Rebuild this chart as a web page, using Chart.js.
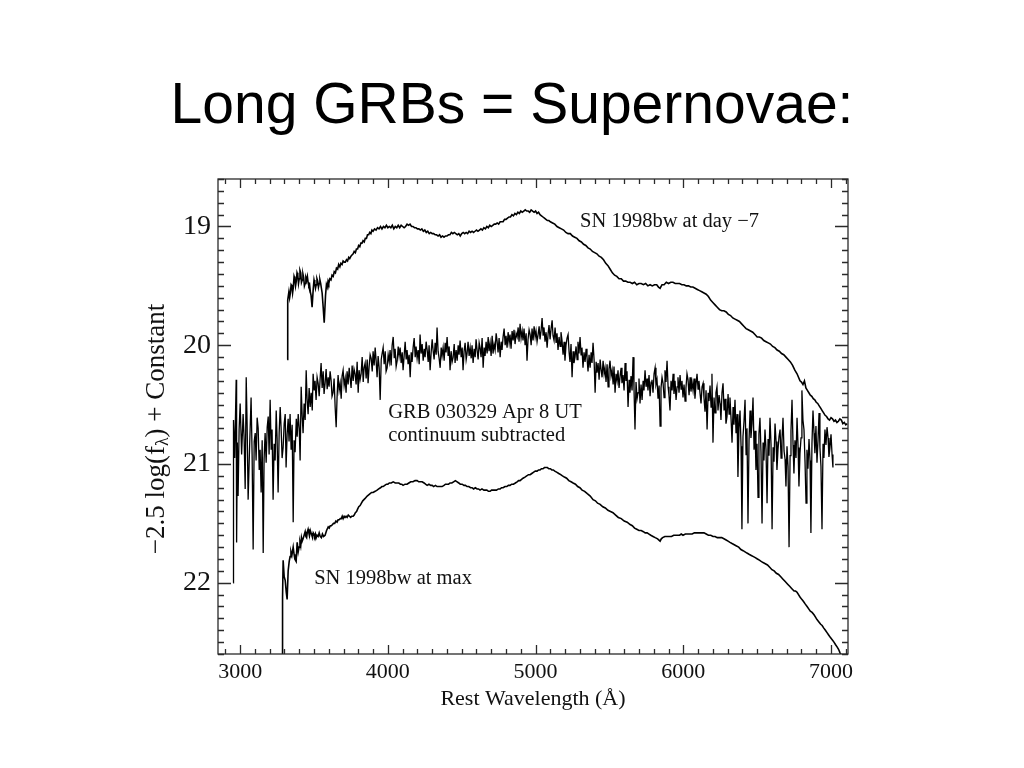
<!DOCTYPE html>
<html><head><meta charset="utf-8">
<script src="https://cdn.jsdelivr.net/npm/chart.js@4.4.1/dist/chart.umd.min.js"></script>
<style>
html,body{margin:0;padding:0;background:#fff;}
#wrap{position:relative;width:1024px;height:768px;overflow:hidden;}
#title{position:absolute;left:0;top:75px;width:1024px;text-align:center;font-family:'Liberation Sans',Arial,sans-serif;font-size:57px;line-height:57px;color:#000;}
canvas{position:absolute;left:0;top:0;}
</style></head><body>
<div id="wrap"><canvas id="c" width="1024" height="768"></canvas><div id="title">Long GRBs = Supernovae:</div></div>
<script>
// ---- data: [rest wavelength (Å), -2.5 log(f) + const] ----
const seriesNames = ['SN 1998bw at day −7', 'GRB 030329 Apr 8 UT', 'SN 1998bw at max'];
const xTickLabels = [3000, 4000, 5000, 6000, 7000];
const yTickLabels = [19, 20, 21, 22];

const sn1998bwDay7 = [
[3318,20.12],[3322,19.62],[3330,19.55],[3335,19.60],[3340,19.56],[3345,19.49],[3350,19.50],[3355,19.56],[3360,19.51],[3365,19.42],[3370,19.44],[3375,19.50],[3380,19.46],[3385,19.39],[3390,19.41],[3395,19.48],[3400,19.44],
[3405,19.37],[3410,19.39],[3415,19.47],[3420,19.45],[3425,19.40],[3430,19.43],[3435,19.50],[3440,19.48],[3445,19.43],[3450,19.45],[3455,19.42],[3460,19.47],[3465,19.50],[3470,19.49],[3475,19.55],[3480,19.58],[3487,19.68],[3495,19.52],
[3500,19.45],[3505,19.48],[3510,19.52],[3515,19.49],[3520,19.44],[3525,19.46],[3530,19.51],[3535,19.48],[3540,19.45],[3545,19.48],[3550,19.52],[3555,19.56],[3562,19.68],[3569,19.81],[3578,19.58],[3584,19.49],[3589,19.51],
[3595,19.46],[3600,19.48],[3607,19.44],[3615,19.45],[3622,19.41],[3630,19.42],[3637,19.38],[3645,19.39],[3652,19.35],[3660,19.36],[3667,19.32],[3675,19.34],[3682,19.31],[3690,19.32],[3697,19.29],[3705,19.30],[3712,19.30],[3720,19.28],
[3727,19.29],[3735,19.26],[3742,19.27],[3750,19.25],[3757,19.24],[3765,19.23],[3772,19.21],[3780,19.22],[3787,19.19],[3795,19.19],[3802,19.16],[3810,19.17],[3817,19.14],[3825,19.14],[3832,19.12],[3840,19.13],[3847,19.10],[3855,19.10],
[3862,19.07],[3870,19.07],[3877,19.05],[3885,19.06],[3892,19.03],[3900,19.04],[3910,19.02],[3920,19.03],[3930,19.01],[3940,19.02],[3950,19.00],[3960,19.02],[3970,19.00],[3980,19.01],[3990,18.99],[4000,19.01],[4010,19.00],[4020,19.01],
[4030,18.99],[4040,19.02],[4050,19.00],[4060,19.01],[4070,18.99],[4080,19.01],[4090,18.99],[4100,19.00],[4110,19.01],[4120,19.00],[4130,18.98],[4140,18.99],[4150,18.98],[4160,19.00],[4170,19.00],[4180,19.01],[4190,19.01],[4200,19.02],
[4210,19.02],[4220,19.03],[4230,19.02],[4240,19.04],[4250,19.03],[4260,19.05],[4270,19.04],[4280,19.06],[4290,19.05],[4300,19.06],[4310,19.06],[4320,19.07],[4330,19.07],[4340,19.08],[4350,19.07],[4360,19.09],[4370,19.08],[4380,19.09],
[4390,19.08],[4400,19.08],[4410,19.07],[4420,19.07],[4430,19.05],[4440,19.06],[4450,19.05],[4460,19.06],[4470,19.07],[4480,19.06],[4490,19.08],[4500,19.06],[4510,19.05],[4520,19.06],[4530,19.05],[4540,19.06],[4550,19.04],[4560,19.05],
[4570,19.04],[4580,19.05],[4590,19.04],[4600,19.03],[4610,19.04],[4620,19.03],[4630,19.02],[4640,19.03],[4650,19.01],[4660,19.02],[4670,19.00],[4680,19.01],[4690,18.99],[4700,19.00],[4710,18.99],[4720,18.98],[4730,18.98],[4740,18.97],
[4750,18.98],[4760,18.96],[4770,18.96],[4780,18.96],[4790,18.94],[4800,18.94],[4810,18.93],[4820,18.92],[4830,18.92],[4840,18.90],[4850,18.91],[4860,18.89],[4870,18.90],[4880,18.88],[4890,18.89],[4900,18.87],[4910,18.88],[4920,18.87],
[4930,18.86],[4940,18.87],[4950,18.87],[4960,18.88],[4970,18.86],[4980,18.87],[4990,18.88],[5000,18.87],[5010,18.89],[5020,18.88],[5030,18.90],[5040,18.91],[5050,18.92],[5060,18.93],[5070,18.94],[5080,18.95],[5090,18.95],[5100,18.96],
[5115,18.97],[5130,18.98],[5145,19.00],[5160,19.01],[5175,19.02],[5190,19.03],[5205,19.05],[5220,19.06],[5235,19.06],[5250,19.08],[5265,19.09],[5280,19.10],[5295,19.12],[5310,19.13],[5325,19.15],[5340,19.16],[5355,19.18],[5370,19.19],
[5385,19.21],[5400,19.22],[5415,19.23],[5430,19.25],[5445,19.26],[5460,19.28],[5475,19.31],[5490,19.33],[5505,19.36],[5520,19.39],[5535,19.41],[5550,19.42],[5565,19.44],[5580,19.44],[5595,19.46],[5610,19.46],[5625,19.47],[5640,19.47],
[5655,19.48],[5670,19.47],[5685,19.49],[5700,19.48],[5715,19.48],[5730,19.49],[5745,19.48],[5760,19.50],[5775,19.49],[5790,19.50],[5805,19.49],[5820,19.49],[5832,19.51],[5843,19.52],[5856,19.49],[5870,19.49],[5885,19.47],[5900,19.48],
[5915,19.47],[5930,19.47],[5945,19.48],[5960,19.48],[5975,19.48],[5990,19.49],[6005,19.49],[6020,19.50],[6035,19.50],[6050,19.51],[6065,19.51],[6080,19.52],[6095,19.53],[6110,19.54],[6125,19.55],[6140,19.56],[6155,19.57],[6170,19.59],
[6185,19.62],[6200,19.64],[6215,19.66],[6230,19.68],[6245,19.70],[6260,19.71],[6275,19.71],[6290,19.72],[6305,19.74],[6320,19.75],[6335,19.77],[6350,19.78],[6365,19.79],[6380,19.80],[6395,19.82],[6410,19.84],[6425,19.86],[6440,19.87],
[6455,19.88],[6470,19.89],[6485,19.91],[6500,19.93],[6515,19.93],[6530,19.94],[6545,19.96],[6560,19.97],[6575,19.98],[6590,19.99],[6605,20.01],[6620,20.02],[6635,20.04],[6650,20.05],[6665,20.07],[6680,20.08],[6695,20.10],[6710,20.12],
[6725,20.14],[6740,20.17],[6755,20.21],[6770,20.24],[6780,20.27],[6790,20.30],[6800,20.31],[6810,20.33],[6820,20.30],[6830,20.36],[6840,20.38],[6850,20.40],[6860,20.42],[6870,20.43],[6880,20.45],[6890,20.46],[6900,20.48],[6910,20.49],
[6920,20.51],[6930,20.53],[6940,20.55],[6950,20.57],[6960,20.59],[6970,20.60],[6980,20.62],[6990,20.63],[7000,20.61],[7010,20.62],[7020,20.64],[7030,20.63],[7040,20.65],[7050,20.64],[7060,20.62],[7070,20.63],[7080,20.66],[7090,20.65],
[7100,20.67],[7110,20.66]
];

const grb030329 = [
[2953,22.00],[2955,20.63],[2963,20.95],[2973,20.29],[2976,21.66],[2981,20.82],[2986,21.27],[2993,20.71],[3000,20.49],[3010,20.92],[3020,20.58],[3027,20.79],[3034,21.21],[3041,20.27],[3047,20.66],[3054,21.30],[3064,20.85],[3074,20.44],
[3081,20.93],[3088,21.72],[3095,20.81],[3102,20.74],[3108,20.97],[3115,20.61],[3122,20.70],[3129,21.05],[3135,20.88],[3142,21.24],[3149,20.80],[3156,21.75],[3162,20.96],[3169,20.74],[3176,20.99],[3183,20.69],[3190,20.60],[3196,20.92],
[3203,20.46],[3210,20.88],[3216,20.71],[3223,21.30],[3230,20.83],[3237,20.97],[3244,20.55],[3250,20.78],[3257,21.24],[3264,20.74],[3271,20.52],[3277,20.69],[3284,20.95],[3291,20.86],[3298,20.66],[3305,20.58],[3311,21.03],[3318,20.75],
[3325,20.62],[3331,20.81],[3338,20.58],[3345,20.88],[3352,20.67],[3359,21.49],[3365,20.80],[3372,20.90],[3380,20.62],[3386,20.77],[3393,20.58],[3400,20.70],[3406,20.97],[3413,20.35],[3420,20.60],[3426,20.74],[3433,20.49],[3440,20.63],
[3447,20.21],[3453,20.45],[3460,20.58],[3467,20.36],[3474,20.52],[3481,20.40],[3488,20.55],[3494,20.24],[3501,20.38],[3507,20.30],[3514,20.46],[3521,20.27],[3528,20.32],[3535,20.43],[3541,20.29],[3548,20.15],[3555,20.36],[3562,20.22],
[3568,20.41],[3575,20.32],[3582,20.20],[3589,20.37],[3596,20.27],[3602,20.35],[3609,20.22],[3616,20.30],[3622,20.43],[3629,20.40],[3636,20.28],[3643,20.52],[3650,20.69],[3656,20.44],[3663,20.25],[3670,20.38],[3677,20.32],[3684,20.45],
[3690,20.26],[3697,20.21],[3704,20.34],[3711,20.28],[3717,20.40],[3724,20.22],[3731,20.33],[3738,20.19],[3744,20.27],[3751,20.36],[3758,20.17],[3765,20.30],[3771,20.20],[3778,20.24],[3785,20.33],[3792,20.14],[3799,20.40],[3805,20.21],
[3812,20.29],[3819,20.24],[3826,20.10],[3833,20.31],[3839,20.19],[3846,20.15],[3853,20.28],[3860,20.12],[3866,20.32],[3873,20.18],[3880,20.08],[3887,20.11],[3894,20.22],[3900,20.05],[3907,20.17],[3914,20.02],[3921,20.14],[3927,20.27],
[3934,20.09],[3941,20.19],[3948,20.46],[3955,20.12],[3961,20.07],[3968,20.02],[3975,20.16],[3982,20.05],[3988,20.22],[3995,20.19],[4002,20.08],[4009,20.14],[4015,20.04],[4022,20.17],[4029,20.00],[4036,19.93],[4043,20.11],[4049,20.03],
[4056,20.18],[4063,20.13],[4070,20.01],[4076,20.09],[4083,20.02],[4090,20.15],[4097,20.06],[4103,20.21],[4110,20.09],[4117,19.97],[4124,20.12],[4130,20.04],[4137,20.16],[4144,20.08],[4151,20.27],[4158,20.06],[4164,20.14],[4171,20.02],
[4178,19.94],[4185,20.10],[4191,20.01],[4198,20.11],[4205,20.04],[4212,20.16],[4218,19.91],[4225,20.07],[4232,19.99],[4239,20.13],[4246,20.03],[4252,20.10],[4259,19.97],[4266,20.04],[4273,20.14],[4279,20.00],[4286,20.21],[4293,20.06],
[4300,19.95],[4306,20.04],[4313,20.12],[4320,19.98],[4327,20.08],[4333,19.85],[4340,20.05],[4347,20.11],[4354,20.19],[4361,20.02],[4367,20.09],[4374,20.02],[4381,20.13],[4388,19.98],[4394,20.06],[4401,19.93],[4408,20.09],[4415,20.01],
[4421,20.21],[4428,20.05],[4435,20.14],[4442,20.10],[4449,19.99],[4455,20.15],[4462,20.04],[4469,20.13],[4476,20.00],[4482,20.08],[4489,19.96],[4496,20.10],[4503,20.02],[4509,20.21],[4516,20.05],[4523,19.98],[4530,20.12],[4536,20.07],
[4543,19.97],[4550,20.09],[4557,20.02],[4564,20.11],[4570,20.00],[4577,20.15],[4584,20.03],[4591,20.10],[4597,19.95],[4604,20.04],[4611,20.12],[4618,19.98],[4624,20.02],[4631,20.10],[4638,19.94],[4645,20.19],[4652,20.02],[4658,20.09],
[4665,19.97],[4672,20.07],[4679,19.93],[4685,20.05],[4692,19.98],[4699,20.09],[4706,19.92],[4712,20.07],[4719,19.99],[4726,20.04],[4733,19.90],[4739,19.96],[4746,20.06],[4753,19.94],[4760,20.10],[4767,19.97],[4773,20.04],[4780,19.93],
[4787,19.86],[4794,20.00],[4800,19.92],[4807,20.02],[4814,19.89],[4821,19.98],[4827,19.91],[4834,20.03],[4841,19.88],[4848,19.96],[4854,19.87],[4861,19.99],[4868,19.90],[4875,19.93],[4882,19.85],[4888,19.97],[4895,19.82],[4902,19.94],
[4909,19.88],[4915,19.96],[4922,19.86],[4929,20.00],[4936,19.90],[4942,20.13],[4949,19.95],[4956,19.87],[4963,19.91],[4970,20.00],[4976,19.86],[4983,19.96],[4990,19.84],[4997,19.93],[5003,19.88],[5010,19.97],[5017,19.91],[5024,19.84],
[5030,19.95],[5037,19.88],[5044,19.77],[5051,19.92],[5057,19.85],[5064,19.97],[5071,19.89],[5078,20.02],[5085,19.90],[5091,19.83],[5098,19.95],[5105,19.86],[5112,19.79],[5118,19.92],[5125,19.96],[5132,19.85],[5139,19.98],[5145,19.90],
[5152,20.04],[5159,19.93],[5166,20.01],[5172,19.89],[5179,19.96],[5186,20.08],[5193,19.97],[5199,20.13],[5206,20.00],[5213,19.94],[5220,19.91],[5227,20.06],[5233,20.14],[5240,19.99],[5247,20.27],[5254,20.05],[5260,20.15],[5267,20.10],
[5274,20.01],[5281,20.12],[5287,19.97],[5294,20.07],[5301,19.93],[5308,20.08],[5314,20.02],[5321,20.19],[5328,20.06],[5335,20.14],[5342,20.03],[5348,20.10],[5355,20.22],[5362,20.08],[5369,20.19],[5376,20.06],[5382,20.15],[5389,19.98],
[5396,20.12],[5403,20.40],[5410,20.14],[5416,20.23],[5423,20.15],[5430,20.29],[5437,20.12],[5443,20.20],[5450,20.27],[5457,20.13],[5464,20.24],[5470,20.19],[5477,20.31],[5484,20.16],[5491,20.35],[5497,20.20],[5504,20.13],[5511,20.26],
[5518,20.21],[5525,20.33],[5531,20.18],[5538,20.40],[5545,20.24],[5552,20.30],[5558,20.21],[5565,20.36],[5572,20.26],[5579,20.19],[5585,20.32],[5592,20.25],[5599,20.38],[5606,20.15],[5612,20.30],[5619,20.22],[5626,20.52],[5633,20.29],
[5639,20.40],[5646,20.26],[5653,20.38],[5660,20.10],[5666,20.35],[5673,20.71],[5680,20.31],[5687,20.45],[5694,20.40],[5700,20.28],[5707,20.49],[5714,20.33],[5721,20.46],[5728,20.30],[5734,20.38],[5741,20.21],[5748,20.35],[5755,20.28],
[5761,20.38],[5768,20.25],[5775,20.43],[5782,20.31],[5788,20.29],[5795,20.40],[5802,20.24],[5809,20.19],[5815,20.33],[5822,20.29],[5829,20.45],[5836,20.34],[5843,20.68],[5849,20.36],[5856,20.27],[5863,20.32],[5870,20.44],[5876,20.21],
[5883,20.31],[5890,20.13],[5897,20.35],[5903,20.42],[5910,20.55],[5917,20.30],[5924,20.38],[5931,20.24],[5937,20.41],[5944,20.30],[5951,20.46],[5958,20.35],[5964,20.27],[5971,20.40],[5978,20.25],[5985,20.37],[5991,20.30],[5998,20.44],
[6005,20.33],[6012,20.47],[6018,20.36],[6025,20.24],[6032,20.29],[6039,20.42],[6046,20.27],[6052,20.39],[6059,20.31],[6066,20.38],[6073,20.28],[6079,20.45],[6086,20.33],[6093,20.24],[6100,20.37],[6106,20.30],[6113,20.40],[6120,20.49],
[6127,20.35],[6134,20.32],[6140,20.44],[6147,20.56],[6154,20.38],[6161,20.71],[6168,20.40],[6174,20.47],[6181,20.34],[6188,20.52],[6194,20.24],[6201,20.82],[6208,20.44],[6215,20.57],[6221,20.40],[6228,20.35],[6235,20.55],[6242,20.42],
[6249,20.49],[6255,20.63],[6262,20.40],[6269,20.32],[6276,20.55],[6283,20.45],[6289,20.66],[6296,20.60],[6303,20.41],[6310,20.58],[6316,20.44],[6323,20.61],[6330,20.82],[6337,20.52],[6343,20.67],[6350,20.46],[6357,20.74],[6364,20.58],
[6370,21.11],[6377,20.70],[6384,20.55],[6391,20.85],[6397,21.55],[6404,20.77],[6411,20.64],[6418,20.46],[6425,20.92],[6431,20.70],[6438,21.50],[6445,20.80],[6452,20.55],[6458,20.78],[6465,20.66],[6472,20.44],[6479,20.88],[6486,20.72],
[6492,21.05],[6499,20.83],[6506,21.28],[6512,20.75],[6519,20.61],[6526,20.90],[6533,21.50],[6540,20.82],[6546,20.97],[6553,20.71],[6560,20.88],[6567,21.33],[6574,20.79],[6580,20.93],[6587,20.61],[6594,20.84],[6601,21.55],[6608,20.86],
[6614,20.98],[6621,20.66],[6628,20.81],[6634,21.05],[6641,20.88],[6648,20.77],[6655,20.71],[6662,20.95],[6668,20.80],[6675,20.61],[6682,20.89],[6689,20.96],[6695,21.19],[6702,20.85],[6709,21.02],[6716,21.70],[6723,20.93],[6729,20.72],
[6736,20.46],[6743,20.84],[6749,21.08],[6756,20.80],[6763,20.95],[6770,20.61],[6777,20.86],[6783,21.19],[6790,20.91],[6797,20.78],[6803,20.38],[6810,20.63],[6817,20.71],[6824,20.98],[6831,21.33],[6837,20.88],[6844,21.04],[6851,20.79],
[6858,20.97],[6864,21.58],[6871,20.83],[6878,20.55],[6885,20.74],[6891,20.91],[6898,20.68],[6905,20.99],[6912,20.80],[6919,20.57],[6925,20.86],[6932,21.02],[6939,21.55],[6946,20.83],[6952,20.95],[6959,20.71],[6966,20.84],[6973,20.69],
[6980,20.78],[6986,20.94],[6993,20.86],[7000,20.75],[7007,20.92],[7013,21.03]
];

const sn1998bwMax = [
[3284,22.65],[3287,22.12],[3291,21.81],[3298,21.95],[3305,21.98],[3312,22.08],[3318,22.14],[3325,21.90],[3332,21.82],[3338,21.78],[3344,21.74],[3350,21.77],[3359,21.70],
[3365,21.76],[3370,21.80],[3379,21.82],[3386,21.66],[3393,21.74],[3399,21.70],[3405,21.66],[3410,21.69],[3415,21.62],[3420,21.65],[3426,21.63],[3433,21.60],[3440,21.57],[3445,21.61],[3450,21.62],[3455,21.57],[3460,21.55],
[3465,21.58],[3470,21.60],[3475,21.56],[3480,21.58],[3485,21.60],[3490,21.62],[3495,21.58],[3500,21.59],[3505,21.61],[3510,21.59],[3515,21.62],[3521,21.60],[3528,21.61],[3535,21.58],[3542,21.61],[3550,21.62],[3557,21.59],[3565,21.61],[3575,21.60],
[3585,21.56],[3596,21.53],[3603,21.54],[3610,21.52],[3618,21.52],[3625,21.51],[3632,21.50],[3640,21.50],[3648,21.48],[3656,21.49],[3663,21.47],[3670,21.47],[3678,21.46],[3685,21.46],[3691,21.44],[3697,21.46],[3704,21.44],[3710,21.45],
[3717,21.44],[3724,21.45],[3732,21.43],[3740,21.44],[3748,21.45],[3755,21.44],[3765,21.44],[3772,21.43],[3780,21.41],[3788,21.40],[3795,21.38],[3803,21.36],[3812,21.35],[3821,21.33],[3830,21.31],[3838,21.30],[3846,21.29],[3853,21.28],[3860,21.27],
[3870,21.26],[3880,21.25],[3890,21.24],[3900,21.24],[3914,21.23],[3927,21.22],[3938,21.21],[3950,21.20],[3959,21.19],[3968,21.19],[3979,21.18],[3990,21.17],[4000,21.17],[4010,21.16],[4023,21.16],[4036,21.15],[4050,21.16],[4063,21.16],[4074,21.16],[4085,21.17],
[4094,21.17],[4103,21.18],[4116,21.17],[4130,21.17],[4142,21.16],[4155,21.15],[4170,21.15],[4184,21.14],[4198,21.14],[4209,21.15],[4220,21.15],[4232,21.15],[4245,21.16],[4255,21.17],[4266,21.18],[4278,21.17],[4290,21.18],[4300,21.18],[4310,21.19],
[4322,21.18],[4333,21.19],[4344,21.19],[4354,21.19],[4367,21.19],[4380,21.18],[4390,21.17],[4401,21.17],[4411,21.17],[4421,21.16],[4433,21.16],[4445,21.15],[4457,21.14],[4469,21.15],[4480,21.16],[4490,21.17],[4503,21.17],[4515,21.18],[4525,21.18],[4536,21.19],
[4548,21.19],[4560,21.20],[4570,21.20],[4580,21.21],[4592,21.20],[4604,21.21],[4614,21.21],[4624,21.22],[4637,21.21],[4650,21.22],[4660,21.22],[4670,21.22],[4681,21.23],[4692,21.23],[4702,21.22],[4712,21.22],[4724,21.22],[4735,21.22],[4748,21.21],[4760,21.21],
[4770,21.20],[4780,21.20],[4793,21.19],[4805,21.19],[4816,21.18],[4827,21.18],[4838,21.17],[4850,21.17],[4863,21.16],[4875,21.15],[4885,21.14],[4895,21.14],[4905,21.13],[4915,21.12],[4928,21.11],[4940,21.10],[4952,21.09],[4963,21.09],[4974,21.08],[4985,21.07],
[4998,21.06],[5010,21.06],[5020,21.05],[5030,21.05],[5040,21.04],[5050,21.04],[5060,21.03],[5070,21.03],[5080,21.03],[5090,21.04],[5100,21.04],[5110,21.05],[5120,21.05],[5130,21.06],[5145,21.07],[5157,21.08],[5170,21.09],[5182,21.10],[5195,21.11],
[5210,21.12],[5225,21.14],[5240,21.15],[5254,21.16],[5270,21.17],[5285,21.19],[5300,21.20],[5315,21.22],[5332,21.23],[5350,21.25],[5370,21.27],[5389,21.30],[5405,21.31],[5420,21.33],[5437,21.34],[5455,21.36],[5472,21.37],[5490,21.39],[5507,21.40],[5524,21.41],
[5542,21.43],[5560,21.45],[5580,21.46],[5600,21.48],[5620,21.49],[5640,21.51],[5655,21.52],[5670,21.54],[5685,21.55],[5700,21.56],[5715,21.56],[5730,21.57],[5742,21.58],[5755,21.58],[5768,21.59],[5780,21.60],[5795,21.61],[5810,21.62],[5826,21.63],[5843,21.65],
[5851,21.63],[5860,21.62],[5875,21.61],[5890,21.61],[5905,21.61],[5920,21.61],[5935,21.60],[5950,21.60],[5962,21.60],[5975,21.60],[5986,21.59],[5998,21.60],[6014,21.59],[6030,21.59],[6045,21.59],[6060,21.59],[6075,21.58],[6090,21.58],[6101,21.58],[6113,21.58],
[6127,21.58],[6140,21.58],[6155,21.59],[6170,21.60],[6186,21.60],[6201,21.61],[6215,21.61],[6230,21.62],[6245,21.62],[6260,21.62],[6275,21.63],[6290,21.64],[6303,21.65],[6316,21.66],[6330,21.67],[6345,21.68],[6360,21.69],[6375,21.70],[6390,21.72],[6405,21.73],
[6418,21.74],[6431,21.75],[6445,21.76],[6460,21.77],[6475,21.78],[6490,21.79],[6502,21.80],[6515,21.81],[6527,21.82],[6540,21.83],[6555,21.84],[6570,21.85],[6585,21.87],[6600,21.89],[6615,21.90],[6630,21.92],[6645,21.93],[6660,21.95],[6675,21.97],[6690,21.99],
[6705,22.01],[6720,22.03],[6735,22.05],[6750,22.07],[6760,22.07],[6770,22.08],[6780,22.10],[6790,22.12],[6802,22.14],[6815,22.16],[6826,22.18],[6838,22.20],[6849,22.22],[6860,22.24],[6872,22.25],[6885,22.27],[6895,22.29],[6905,22.31],[6918,22.33],[6930,22.35],
[6940,22.36],[6950,22.38],[6962,22.40],[6973,22.42],[6984,22.44],[6995,22.46],[7008,22.48],[7020,22.50],[7030,22.52],[7041,22.54],[7051,22.56],[7061,22.59],[7075,22.62]
];

// text labels inside the plot, anchored in data units
const plotLabels = [
  {text: 'SN 1998bw at day −7', x: 5301, y: 19.00},
  {text: 'GRB 030329 Apr 8 UT', x: 4002, y: 20.61},
  {text: 'continuum subtracted', x: 4002, y: 20.81},
  {text: 'SN 1998bw at max', x: 3501, y: 22.01}
];

const SERIF = "'Liberation Serif','Times New Roman',serif";
const toXY = arr => arr.map(p => ({x: p[0], y: p[1]}));
const isMajor = (list, v) => list.some(l => Math.abs(l - v) < 1e-6);

const framePlugin = {
  id: 'frameTicks',
  afterDatasetsDraw(chart) {
    const {ctx, chartArea: a, scales: {x, y}} = chart;
    ctx.save();
    ctx.strokeStyle = '#2a2a2a';
    ctx.lineWidth = 1.3;
    ctx.beginPath();
    x.ticks.forEach(t => {
      if (Math.abs(t.value / 100 - Math.round(t.value / 100)) > 1e-6) return;
      const px = Math.round(x.getPixelForValue(t.value)) + 0.5;
      const L = isMajor(xTickLabels, t.value) ? 9 : 5;
      ctx.moveTo(px, a.bottom); ctx.lineTo(px, a.bottom - L);
      ctx.moveTo(px, a.top); ctx.lineTo(px, a.top + L);
    });
    y.ticks.forEach(t => {
      const py = Math.round(y.getPixelForValue(t.value)) + 0.5;
      const L = isMajor(yTickLabels, t.value) ? 13 : 6;
      ctx.moveTo(a.left, py); ctx.lineTo(a.left + L, py);
      ctx.moveTo(a.right, py); ctx.lineTo(a.right - L, py);
    });
    ctx.stroke();
    ctx.strokeRect(a.left, a.top, a.right - a.left, a.bottom - a.top);

    // labels inside plot
    ctx.fillStyle = '#111';
    ctx.font = '20.5px ' + SERIF;
    ctx.textBaseline = 'alphabetic';
    ctx.textAlign = 'left';
    plotLabels.forEach(l => ctx.fillText(l.text, x.getPixelForValue(l.x), y.getPixelForValue(l.y)));

    // y-axis title with subscript lambda
    const t = chart.options.scales.y.title.text;
    const i = t.indexOf('λ');
    const pre = t.slice(0, i), sub = t.slice(i, i + 1), post = t.slice(i + 1);
    const big = '27px ' + SERIF, small = '18px ' + SERIF;
    ctx.font = big; const w1 = ctx.measureText(pre).width, w3 = ctx.measureText(post).width;
    ctx.font = small; const w2 = ctx.measureText(sub).width;
    const total = w1 + w2 + w3;
    ctx.translate(157, 429);
    ctx.rotate(-Math.PI / 2);
    ctx.textBaseline = 'middle';
    let cx = -total / 2;
    ctx.font = big; ctx.fillText(pre, cx, 0); cx += w1;
    ctx.font = small; ctx.fillText(sub, cx, 6); cx += w2;
    ctx.font = big; ctx.fillText(post, cx, 0);
    ctx.restore();
  }
};

const lineStyle = {borderColor: '#000', borderWidth: 1.6, pointRadius: 0, tension: 0, fill: false};

new Chart(document.getElementById('c'), {
  type: 'line',
  data: {
    datasets: [
      Object.assign({label: seriesNames[0], data: toXY(sn1998bwDay7)}, lineStyle),
      Object.assign({label: seriesNames[1], data: toXY(grb030329)}, lineStyle, {borderWidth: 1.3}),
      Object.assign({label: seriesNames[2], data: toXY(sn1998bwMax)}, lineStyle)
    ]
  },
  options: {
    responsive: false,
    animation: false,
    events: [],
    layout: {padding: {top: 179, right: 176, left: 0, bottom: 0}},
    plugins: {legend: {display: false}, tooltip: {enabled: false}, title: {display: false}},
    scales: {
      x: {
        type: 'linear', min: 2850, max: 7115,
        grid: {display: false, drawTicks: false},
        border: {display: false},
        afterBuildTicks: s => {
          const t = [];
          for (let v = Math.ceil(s.min / 100) * 100; v <= s.max; v += 100) t.push({value: v});
          s.ticks = t;
        },
        afterFit: s => { s.height = 114; },
        ticks: {
          autoSkip: false, maxRotation: 0, minRotation: 0, padding: 5,
          color: '#111', font: {family: SERIF, size: 22},
          callback: v => isMajor(xTickLabels, v) ? String(v) : ''
        },
        title: {display: true, text: 'Rest Wavelength (Å)', color: '#111',
          font: {family: SERIF, size: 22}, padding: {top: 0, bottom: 56}}
      },
      y: {
        type: 'linear', reverse: true, min: 18.6, max: 22.6,
        grid: {display: false, drawTicks: false},
        border: {display: false},
        afterBuildTicks: s => {
          const t = [];
          for (let k = Math.ceil(s.min * 10 - 1e-6); k <= Math.floor(s.max * 10 + 1e-6); k++) t.push({value: k / 10});
          s.ticks = t;
        },
        afterFit: s => { s.width = 218; },
        ticks: {
          autoSkip: false, padding: 7, color: '#111', font: {family: SERIF, size: 28},
          callback: v => { const m = yTickLabels.find(l => Math.abs(l - v) < 1e-6); return m === undefined ? '' : String(m); }
        },
        title: {display: false, text: '−2.5 log(fλ) + Constant'}
      }
    }
  },
  plugins: [framePlugin]
});
</script>
</body></html>
